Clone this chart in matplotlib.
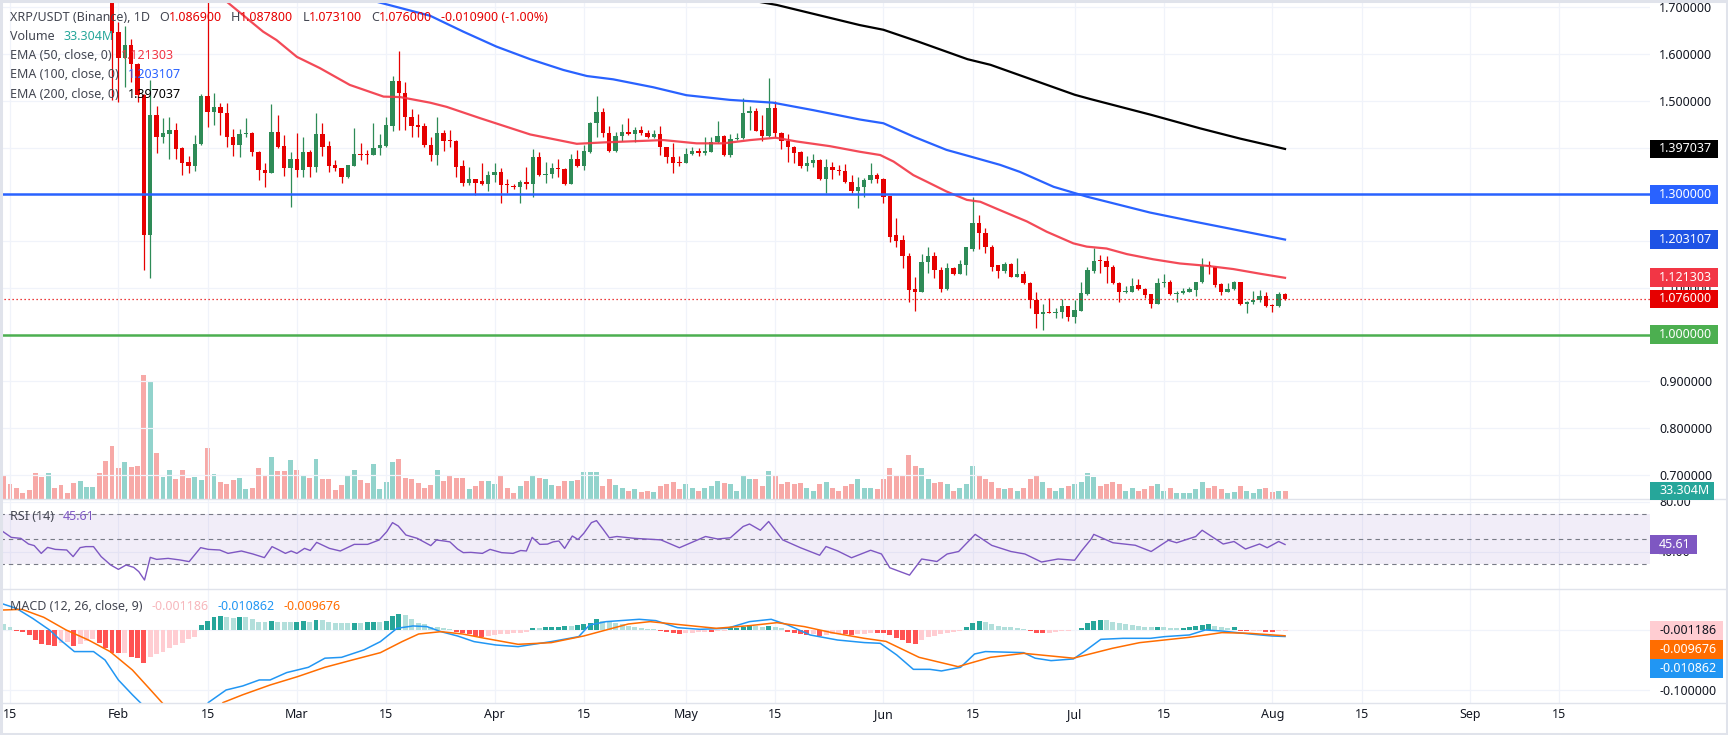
import numpy as np
import pandas as pd
import matplotlib
matplotlib.use("Agg")
import matplotlib.pyplot as plt
import matplotlib.dates as mdates
from matplotlib.patches import Rectangle
from matplotlib.lines import Line2D
from matplotlib.transforms import IdentityTransform

plt.rcParams['font.family'] = ['Noto Sans', 'DejaVu Sans']

# ---------------- data ----------------
candle_start = '2025-01-31'
opens = [1.745, 1.647, 1.591, 1.619, 1.579, 1.513, 1.213, 1.470, 1.422, 1.429,
         1.438, 1.400, 1.369, 1.361, 1.408, 1.510, 1.475, 1.486, 1.473, 1.422,
         1.406, 1.429, 1.431, 1.391, 1.352, 1.346, 1.433, 1.403, 1.356, 1.375,
         1.352, 1.390, 1.359, 1.430, 1.403, 1.363, 1.356, 1.338, 1.361, 1.387,
         1.386, 1.383, 1.398, 1.403, 1.446, 1.542, 1.517, 1.465, 1.448, 1.446,
         1.406, 1.384, 1.432, 1.415, 1.414, 1.361, 1.325, 1.332, 1.329, 1.322,
         1.341, 1.347, 1.320, 1.317, 1.315, 1.326, 1.321, 1.379, 1.341, 1.343,
         1.357, 1.355, 1.322, 1.375, 1.361, 1.391, 1.452, 1.475, 1.432, 1.393,
         1.425, 1.433, 1.429, 1.438, 1.432, 1.423, 1.430, 1.401, 1.379, 1.368,
         1.368, 1.386, 1.393, 1.388, 1.391, 1.411, 1.425, 1.384, 1.418, 1.420,
         1.473, 1.478, 1.438, 1.425, 1.484, 1.432, 1.415, 1.401, 1.391, 1.361,
         1.366, 1.373, 1.332, 1.358, 1.351, 1.349, 1.327, 1.306, 1.315, 1.331,
         1.341, 1.332, 1.296, 1.213, 1.202, 1.167, 1.097, 1.092, 1.155, 1.168,
         1.138, 1.097, 1.143, 1.130, 1.149, 1.182, 1.238, 1.217, 1.187, 1.149,
         1.135, 1.151, 1.124, 1.130, 1.110, 1.074, 1.043, 1.048, 1.047, 1.048,
         1.060, 1.038, 1.051, 1.087, 1.135, 1.158, 1.157, 1.145, 1.111, 1.091,
         1.092, 1.106, 1.097, 1.087, 1.065, 1.111, 1.112, 1.086, 1.088, 1.092,
         1.095, 1.112, 1.147, 1.145, 1.108, 1.092, 1.097, 1.112, 1.065, 1.070,
         1.073, 1.083, 1.063, 1.060, 1.0869]
highs = [1.760, 1.669, 1.659, 1.632, 1.580, 1.514, 1.545, 1.489, 1.463, 1.465,
         1.453, 1.402, 1.381, 1.427, 1.514, 1.712, 1.516, 1.495, 1.495, 1.439,
         1.439, 1.463, 1.434, 1.392, 1.366, 1.493, 1.470, 1.427, 1.391, 1.432,
         1.423, 1.395, 1.473, 1.452, 1.413, 1.373, 1.356, 1.363, 1.441, 1.410,
         1.395, 1.452, 1.430, 1.465, 1.553, 1.607, 1.541, 1.482, 1.472, 1.452,
         1.423, 1.465, 1.438, 1.438, 1.416, 1.373, 1.359, 1.333, 1.366, 1.349,
         1.368, 1.356, 1.332, 1.322, 1.331, 1.358, 1.396, 1.391, 1.370, 1.366,
         1.375, 1.356, 1.386, 1.395, 1.406, 1.455, 1.510, 1.484, 1.446, 1.434,
         1.450, 1.463, 1.443, 1.446, 1.438, 1.438, 1.446, 1.402, 1.409, 1.381,
         1.398, 1.402, 1.398, 1.422, 1.422, 1.457, 1.427, 1.430, 1.431, 1.507,
         1.489, 1.485, 1.470, 1.548, 1.500, 1.434, 1.429, 1.403, 1.393, 1.381,
         1.386, 1.375, 1.375, 1.370, 1.363, 1.365, 1.341, 1.338, 1.334, 1.366,
         1.345, 1.334, 1.296, 1.249, 1.213, 1.174, 1.124, 1.172, 1.187, 1.177,
         1.144, 1.152, 1.145, 1.160, 1.187, 1.294, 1.256, 1.227, 1.192, 1.149,
         1.156, 1.152, 1.163, 1.135, 1.113, 1.092, 1.065, 1.078, 1.056, 1.075,
         1.061, 1.074, 1.113, 1.145, 1.186, 1.170, 1.167, 1.149, 1.112, 1.104,
         1.120, 1.118, 1.099, 1.087, 1.120, 1.130, 1.117, 1.094, 1.099, 1.101,
         1.113, 1.163, 1.158, 1.146, 1.110, 1.110, 1.115, 1.113, 1.071, 1.094,
         1.095, 1.090, 1.065, 1.092, 1.0878]
lows = [1.502, 1.498, 1.530, 1.541, 1.498, 1.138, 1.120, 1.388, 1.410, 1.375,
        1.375, 1.341, 1.346, 1.349, 1.406, 1.445, 1.448, 1.427, 1.402, 1.382,
        1.379, 1.422, 1.381, 1.331, 1.315, 1.345, 1.398, 1.339, 1.272, 1.338,
        1.336, 1.338, 1.347, 1.381, 1.347, 1.349, 1.324, 1.334, 1.361, 1.374,
        1.365, 1.383, 1.384, 1.402, 1.435, 1.438, 1.438, 1.423, 1.423, 1.402,
        1.371, 1.363, 1.393, 1.402, 1.338, 1.318, 1.320, 1.299, 1.320, 1.306,
        1.327, 1.281, 1.302, 1.311, 1.281, 1.311, 1.295, 1.339, 1.324, 1.334,
        1.336, 1.320, 1.321, 1.359, 1.351, 1.388, 1.423, 1.423, 1.391, 1.391,
        1.413, 1.427, 1.411, 1.427, 1.420, 1.420, 1.384, 1.366, 1.346, 1.361,
        1.366, 1.383, 1.381, 1.384, 1.391, 1.409, 1.381, 1.379, 1.416, 1.418,
        1.438, 1.436, 1.413, 1.422, 1.422, 1.396, 1.370, 1.368, 1.356, 1.349,
        1.359, 1.331, 1.302, 1.332, 1.341, 1.325, 1.302, 1.270, 1.295, 1.324,
        1.324, 1.281, 1.197, 1.188, 1.142, 1.070, 1.051, 1.090, 1.132, 1.120,
        1.090, 1.095, 1.128, 1.130, 1.127, 1.179, 1.184, 1.174, 1.135, 1.120,
        1.132, 1.122, 1.124, 1.108, 1.056, 1.013, 1.010, 1.045, 1.035, 1.035,
        1.028, 1.024, 1.051, 1.085, 1.132, 1.131, 1.111, 1.108, 1.070, 1.088,
        1.090, 1.095, 1.078, 1.056, 1.065, 1.101, 1.085, 1.070, 1.087, 1.090,
        1.083, 1.111, 1.130, 1.102, 1.085, 1.090, 1.095, 1.063, 1.047, 1.066,
        1.070, 1.058, 1.049, 1.058, 1.0731]
closes = [1.646, 1.591, 1.619, 1.579, 1.513, 1.213, 1.470, 1.422, 1.432, 1.438,
          1.397, 1.368, 1.361, 1.408, 1.510, 1.475, 1.486, 1.473, 1.422, 1.406,
          1.429, 1.431, 1.391, 1.351, 1.346, 1.433, 1.402, 1.356, 1.375, 1.352,
          1.390, 1.359, 1.430, 1.402, 1.361, 1.356, 1.338, 1.363, 1.386, 1.385,
          1.384, 1.398, 1.406, 1.448, 1.542, 1.517, 1.465, 1.446, 1.445, 1.406,
          1.384, 1.432, 1.415, 1.414, 1.359, 1.325, 1.332, 1.325, 1.322, 1.341,
          1.347, 1.319, 1.319, 1.316, 1.326, 1.321, 1.379, 1.341, 1.343, 1.357,
          1.355, 1.322, 1.375, 1.361, 1.393, 1.452, 1.475, 1.432, 1.393, 1.425,
          1.433, 1.429, 1.438, 1.432, 1.423, 1.430, 1.401, 1.379, 1.366, 1.367,
          1.386, 1.393, 1.388, 1.393, 1.411, 1.425, 1.384, 1.418, 1.420, 1.473,
          1.478, 1.436, 1.425, 1.484, 1.432, 1.413, 1.401, 1.389, 1.361, 1.366,
          1.373, 1.332, 1.358, 1.351, 1.350, 1.327, 1.306, 1.315, 1.331, 1.341,
          1.332, 1.295, 1.209, 1.201, 1.167, 1.095, 1.092, 1.155, 1.168, 1.138,
          1.097, 1.142, 1.130, 1.151, 1.187, 1.238, 1.217, 1.187, 1.145, 1.135,
          1.151, 1.124, 1.130, 1.110, 1.073, 1.043, 1.049, 1.047, 1.048, 1.060,
          1.038, 1.053, 1.088, 1.137, 1.158, 1.157, 1.144, 1.111, 1.090, 1.093,
          1.104, 1.097, 1.085, 1.065, 1.111, 1.113, 1.086, 1.088, 1.094, 1.097,
          1.112, 1.147, 1.146, 1.106, 1.092, 1.097, 1.112, 1.065, 1.070, 1.074,
          1.083, 1.061, 1.062, 1.087, 1.076]

# volume (millions) and MACD histogram, one value per day from 2025-01-14
series_start = '2025-01-14'
volumes = [92, 63, 45, 25, 36, 105, 89, 105, 45, 56, 25, 65, 72, 49, 49, 105, 153,
           212, 125, 149, 129, 132, 497, 473, 186, 89, 116, 80, 119, 85, 89, 79,
           206, 100, 69, 60, 76, 87, 43, 45, 127, 92, 170, 114, 114, 156, 116,
           92, 85, 160, 83, 80, 36, 56, 92, 119, 76, 65, 140, 43, 69, 150,
           160, 85, 83, 65, 45, 56, 116, 72, 92, 85, 85, 43, 52, 72, 72,
           60, 92, 47, 25, 52, 72, 92, 87, 80, 56, 52, 72, 72, 76, 109, 109, 109,
           53, 80, 57, 44, 35, 40, 31, 35,
           31, 53, 62, 71, 40, 62, 44, 35, 44, 53,
           75, 66, 62, 35, 97, 80, 80, 53, 115, 97,
           62, 71, 62, 66, 44, 35, 62, 71, 44, 35,
           53, 62, 80, 44, 44, 40, 80, 124, 97, 97,
           177, 133, 124, 80, 66, 71, 62, 35, 44, 62,
           133, 97, 80, 71, 44, 40, 44, 35, 44, 80,
           97, 71, 44, 35, 44, 53, 62, 71, 106, 88,
           53, 62, 71, 62, 35, 44, 35, 40, 53, 62,
           35, 44, 27, 27, 27, 40, 71, 44, 53, 40,
           27, 31, 53, 35, 27, 40, 44, 31, 35, 33.304]
# candle direction for the first days whose candles sit above the visible range
early_up = [False, False, False, False, False, False, False, True, False, False,
            False, False, True, True, True, False, False]

macd_hist = [0.0094, 0.0056, -0.0011, -0.0028, -0.0083, -0.0167, -0.0233, -0.025, -0.0267,
             -0.0222, -0.0194, -0.0267, -0.0233, -0.0178, -0.0156, -0.0211, -0.0306,
             -0.0378, -0.0389, -0.0378, -0.0444, -0.0472, -0.0556, -0.0456, -0.04, -0.0361,
             -0.0306, -0.025, -0.0211, -0.0156, -0.0111,
             0.0083, 0.0156, 0.0222, 0.0239, 0.0211, 0.0206, 0.0211, 0.0211, 0.0178, 0.0139,
             0.0139, 0.0156, 0.0139, 0.0128, 0.0128, 0.0139,
             0.0156, 0.0139, 0.0167, 0.0167, 0.0139, 0.0122, 0.0111, 0.0111, 0.0122, 0.0122,
             0.0128, 0.0139, 0.0139, 0.0156, 0.0233, 0.0267, 0.025,
             0.0178, 0.0122, 0.0094, 0.0056, 0.0044, 0.0028, 0.0011, -0.0028, -0.0056, -0.0072,
             -0.01, -0.0111, -0.01, -0.0083, -0.0072, -0.0067, -0.0056, -0.0044, -0.0028,
             0.0039, 0.0039, 0.0044, 0.005, 0.0056, 0.0067, 0.0067, 0.0083, 0.0094, 0.0122,
             0.0178, 0.0156, 0.0139, 0.0122, 0.0094, 0.0067, 0.0044, 0.0028, 0.0011, 0.0011,
             -0.0011, -0.0028, -0.0056, -0.0067, -0.0056, -0.0044, -0.0039, -0.0028, -0.0028,
             -0.0017, -0.0011, 0.0028, 0.0039, 0.0056, 0.0083, 0.0067, 0.0056, 0.0072, 0.0056,
             0.0028,
             -0.0028, -0.0044, -0.0067, -0.0083, -0.0072, -0.0094, -0.0083, -0.0072, -0.0067,
             -0.0072, -0.0083, -0.0072, -0.0067, -0.0056, -0.0056, -0.0056, -0.0083, -0.0139,
             -0.0167, -0.0211,
             -0.0239, -0.0167, -0.0122, -0.01, -0.0067, -0.0044, -0.0028, -0.0011, 0.0056,
             0.0122, 0.015, 0.0128, 0.01, 0.0072, 0.0056, 0.0044, 0.0028, 0.0011, -0.0017,
             -0.0044,
             -0.0056, -0.0044, -0.0028, -0.0022, -0.0011, 0.0, 0.0039, 0.0111, 0.015, 0.0167,
             0.0167, 0.0139, 0.0111, 0.0094, 0.0083, 0.0067, 0.0056, 0.0044, 0.0056, 0.0056,
             0.0039, 0.0028, 0.0039, 0.0056, 0.0067, 0.0083, 0.0094, 0.0072, 0.0044, 0.0039,
             0.0044, -0.0017, -0.0017, -0.0016, -0.0011, -0.0028, -0.0028, -0.0013, -0.0012]

# line series read at sample points: days after 2025-01-15 and value
ema50_day = [34.0, 39.7, 41.8, 45.0, 48.6, 53.3, 58.6, 61.2, 65.9, 68.5, 73.7, 81.6, 88.9,
             93.1, 102.5, 107.7, 111.9, 116.1, 120.1, 123.4, 128.6, 133.3, 136.5, 138.6,
             141.7, 143.8, 146.9, 150.1, 152.2, 155.3, 159.5, 162.6, 166.8, 168.9, 172.0,
             175.2, 179.3, 183.5, 187.7, 191.9, 196.1, 200.0]
ema50_val = [1.712, 1.648, 1.630, 1.594, 1.570, 1.534, 1.509, 1.508, 1.496, 1.487, 1.463,
             1.428, 1.408, 1.411, 1.416, 1.409, 1.409, 1.416, 1.421, 1.413, 1.403, 1.391,
             1.384, 1.370, 1.341, 1.327, 1.306, 1.288, 1.284, 1.266, 1.242, 1.220, 1.195,
             1.188, 1.184, 1.172, 1.161, 1.152, 1.147, 1.140, 1.130, 1.121303]
ema100_day = [57.5, 65.9, 71.1, 76.3, 81.6, 86.8, 90.5, 94.6, 100.9, 106.1, 112.9, 119.7,
              126.0, 133.3, 137.0, 141.8, 146.9, 150.6, 155.3, 158.4, 163.7, 168.9, 178.8,
              185.6, 191.9, 200.0]
ema100_val = [1.712, 1.682, 1.648, 1.616, 1.589, 1.566, 1.553, 1.546, 1.529, 1.512, 1.502,
              1.496, 1.480, 1.460, 1.452, 1.423, 1.395, 1.381, 1.363, 1.348, 1.316, 1.295,
              1.261, 1.242, 1.225, 1.203107]
ema200_day = [116.6, 120.3, 133.3, 137.0, 142.4, 150.2, 153.8, 167.0, 169.4, 179.0, 186.7,
              193.0, 200.0]
ema200_val = [1.714, 1.705, 1.662, 1.652, 1.627, 1.589, 1.577, 1.513, 1.504, 1.470, 1.441,
              1.419, 1.397037]

rsi_day = [-1.3, 0.2, 1.7, 2.9, 3.8, 4.9, 5.9, 7.1, 8.9, 9.9,
           11.0, 11.9, 13.1, 14.3, 15.8, 17.0, 18.2, 19.4, 20.2, 21.1,
           22.0, 23.0, 24.8, 26.7, 28.1, 29.9, 31.1, 32.9, 34.2, 36.3,
           38.1, 39.9, 41.1, 42.0, 43.2, 44.1, 45.0, 46.2, 47.1, 48.1,
           50.1, 51.8, 54.0, 56.1, 57.9, 59.1, 60.0, 60.9, 62.1, 63.9,
           66.0, 66.9, 68.1, 69.0, 70.2, 71.1, 72.3, 74.1, 75.3, 77.1,
           78.9, 80.1, 81.0, 81.9, 83.1, 84.3, 85.2, 86.1, 87.0, 88.2,
           89.1, 90.0, 91.2, 92.0, 93.0, 94.0, 95.2, 98.0, 102.1, 105.0,
           109.1, 111.0, 113.0, 115.0, 116.0, 117.7, 119.0, 121.2, 124.0, 127.0,
           128.0, 129.8, 132.0, 133.0, 135.0, 136.7, 138.0, 141.1, 143.0, 145.4,
           147.0, 148.8, 151.4, 154.0, 157.0, 159.2, 161.8, 164.4, 167.0, 168.0,
           169.6, 170.0, 173.0, 176.5, 179.0, 181.7, 183.0, 186.0, 187.0, 190.3,
           192.0, 193.8, 196.0, 197.2, 199.0, 200.0]
rsi_val = [56.6, 51.3, 50.5, 46.0, 44.7, 38.5, 43.3, 41.7, 41.2, 35.9,
           43.1, 43.9, 43.9, 35.9, 29.2, 25.7, 29.2, 27.3, 23.9, 17.2,
           35.3, 33.7, 34.5, 33.2, 31.9, 43.1, 41.7, 41.2, 38.5, 40.4,
           38.0, 35.1, 43.9, 41.7, 38.5, 40.4, 38.5, 42.5, 40.8, 47.3,
           42.5, 40.4, 45.7, 45.7, 49.2, 55.9, 63.1, 60.4, 53.2, 50.5,
           44.7, 49.2, 48.4, 47.7, 42.0, 39.1, 39.3, 38.5, 41.7, 39.1,
           38.5, 40.8, 40.4, 51.3, 45.7, 45.9, 47.7, 48.4, 42.5, 52.4,
           49.6, 54.5, 63.1, 64.7, 58.0, 51.0, 52.0, 50.5, 49.3, 43.0,
           52.0, 50.0, 51.0, 60.0, 62.0, 57.0, 64.0, 49.3, 43.0, 37.0,
           44.0, 40.5, 35.0, 37.0, 41.0, 38.0, 27.0, 21.1, 34.0, 32.0,
           38.0, 40.0, 53.7, 44.9, 40.0, 38.0, 31.6, 34.0, 33.0, 40.0,
           50.0, 53.7, 47.0, 45.0, 40.0, 49.0, 47.0, 52.0, 57.0, 46.0,
           48.0, 42.0, 46.0, 43.0, 48.0, 45.61]

macd_day = [-1.1, 1.0, 3.6, 6.2, 7.9, 10.1, 13.1, 14.9, 17.0, 19.2, 20.5, 21.5, 30.5, 31.1,
            33.9, 36.5, 39.1, 40.8, 43.4, 46.8, 49.4, 52.0, 55.5, 58.1, 60.7, 63.2, 65.4,
            67.6, 70.2, 72.8, 76.2, 79.7, 81.4, 84.9, 89.2, 90.9, 93.5, 98.7, 101.3, 104.7,
            108.2, 112.5, 116.0, 119.4, 122.0, 125.5, 129.8, 134.0, 136.5, 139.1, 141.7,
            144.3, 146.1, 149.1, 151.3, 153.0, 156.4, 159.0, 160.8, 163.3, 166.8, 168.5,
            171.1, 174.6, 178.9, 181.1, 185.0, 187.5, 190.1, 194.5, 197.9, 200.0]
macd_val = [0.0433, 0.036, 0.019, 0.0, -0.0167, -0.036, -0.036, -0.05, -0.0833, -0.108,
            -0.1217, -0.135, -0.135, -0.121, -0.1, -0.0933, -0.0833, -0.0833, -0.071,
            -0.0622, -0.047, -0.0456, -0.0333, -0.0194, 0.0028, 0.0067, 0.0056, -0.0028,
            -0.01, -0.0194, -0.025, -0.0278, -0.025, -0.0194, -0.0111, 0.0083, 0.0139,
            0.0178, 0.0156, 0.0039, 0.0011, 0.0028, 0.0139, 0.0178, 0.0083, -0.0083,
            -0.0167, -0.021, -0.0222, -0.0417, -0.0656, -0.0656, -0.0683, -0.0622, -0.04,
            -0.036, -0.037, -0.0378, -0.047, -0.0511, -0.0483, -0.036, -0.0156, -0.0139,
            -0.0139, -0.0111, -0.0083, 0.0, -0.0017, -0.0067, -0.01, -0.010862]
signal_day = [-1.1, 1.9, 5.3, 8.8, 12.3, 15.7, 19.2, 21.8, 23.9, 25.0, 32.5, 33.4, 36.5,
              40.8, 45.1, 49.4, 53.7, 58.1, 61.5, 64.1, 67.6, 71.0, 74.5, 79.7, 84.9, 90.0,
              93.5, 97.0, 100.4, 105.6, 110.8, 116.0, 120.3, 124.6, 128.9, 134.0, 137.4,
              142.6, 148.7, 153.8, 159.0, 166.8, 172.9, 177.2, 185.0, 190.1, 194.5, 200.0]
signal_val = [0.0333, 0.0344, 0.0211, 0.0, -0.0167, -0.036, -0.0667, -0.097, -0.1217,
              -0.135, -0.135, -0.121, -0.108, -0.0917, -0.0778, -0.0622, -0.05, -0.0378,
              -0.0194, -0.0067, -0.0028, -0.0067, -0.0139, -0.0239, -0.0211, -0.01, 0.0,
              0.01, 0.0139, 0.0083, 0.0028, 0.0072, 0.0122, 0.0056, -0.0044, -0.0139,
              -0.019, -0.0456, -0.0611, -0.0456, -0.0389, -0.047, -0.0306, -0.0211, -0.0122,
              -0.0044, -0.0056, -0.009676]

tick_dates = ['2025-01-15', '2025-02-01', '2025-02-15', '2025-03-01', '2025-03-15',
              '2025-04-01', '2025-04-15', '2025-05-01', '2025-05-15', '2025-06-01',
              '2025-06-15', '2025-07-01', '2025-07-15', '2025-08-01', '2025-08-15',
              '2025-09-01', '2025-09-15']
tick_labels = ['15', 'Feb', '15', 'Mar', '15', 'Apr', '15', 'May', '15', 'Jun',
               '15', 'Jul', '15', 'Aug', '15', 'Sep', '15']

# ---------------- styling ----------------
W, H = 1728, 735
FS = 9
TXT = '#131722'
LEG = '#434651'
GRID = '#f0f3fa'
UP, DOWN = '#2e8b57', '#e60000'
VOL_UP, VOL_DOWN = '#92d3cc', '#f7a9a7'
C50, C100, C200 = '#f23645', '#2962ff', '#000000'

fig = plt.figure(figsize=(W / 100, H / 100), dpi=100)
fig.patch.set_facecolor('white')


def rect(x0, y0, x1, y1):
    return [x0 / W, 1 - y1 / H, (x1 - x0) / W, (y1 - y0) / H]


ax_vol = fig.add_axes(rect(0, 1.7, 1650, 499.3))
ax_vol.set_zorder(0)
ax = fig.add_axes(rect(0, 1.7, 1650, 499.3))
ax.set_zorder(1)
ax.patch.set_visible(False)
ax_rsi = fig.add_axes(rect(0, 499.3, 1650, 589.3))
ax_macd = fig.add_axes(rect(0, 589.3, 1650, 703))

base = mdates.date2num(pd.Timestamp('2025-01-15'))
x_c = mdates.date2num(pd.date_range(candle_start, periods=len(opens), freq='D'))
x_s = mdates.date2num(pd.date_range(series_start, periods=len(volumes), freq='D'))
ticks_x = mdates.date2num(pd.to_datetime(tick_dates))

for a in (ax_vol, ax, ax_rsi, ax_macd):
    a.set_xlim(base - 1.57, base + 257.25)
    for s in a.spines.values():
        s.set_visible(False)
    a.set_xticks(ticks_x)
    a.tick_params(axis='x', length=0, labelbottom=False)
    a.yaxis.tick_right()
    a.tick_params(axis='y', length=0, pad=6.5, labelsize=FS, labelcolor=TXT)

# vertical grid
for a in (ax, ax_rsi, ax_macd):
    for t in ticks_x:
        a.axvline(t, color=GRID, lw=0.9, zorder=0)

# ---- volume ----
o = np.array(opens)
c = np.array(closes)
up_c = c >= o
vol_up = np.concatenate([early_up, up_c])
ax_vol.bar(x_s, volumes, width=0.78, color=np.where(vol_up, VOL_UP, VOL_DOWN), linewidth=0)
ax_vol.set_ylim(0, 1994)
ax_vol.set_yticks([])

# ---- price pane ----
ax.set_ylim(0.64743, 1.71205)
ax.set_yticks(np.round(np.arange(0.7, 1.71, 0.1), 1))
ax.yaxis.set_major_formatter(matplotlib.ticker.FormatStrFormatter('%.6f'))
for v in np.arange(0.7, 1.71, 0.1):
    ax.axhline(v, color=GRID, lw=0.9, zorder=0)

col = np.where(up_c, UP, DOWN)
ax.vlines(x_c, lows, highs, colors=col, linewidth=0.9, zorder=3)
ax.bar(x_c, np.maximum(np.abs(c - o), 0.0022), bottom=np.minimum(o, c), width=0.68,
       color=col, linewidth=0, zorder=3.1)

ax.plot(base + np.array(ema50_day), ema50_val, color=C50, lw=1.6, alpha=0.9, zorder=4)
ax.plot(base + np.array(ema100_day), ema100_val, color=C100, lw=1.6, zorder=4)
ax.plot(base + np.array(ema200_day), ema200_val, color=C200, lw=1.6, zorder=4)
ax.axhline(1.3, color='#2962ff', lw=1.8, zorder=4)
ax.axhline(1.0, color='#4caf50', lw=1.8, zorder=4)
ax.axhline(closes[-1], color=DOWN, lw=0.9, ls=(0, (1, 2.2)), zorder=4)

# ---- RSI pane ----
ax_rsi.set_ylim(9.76, 81.76)
ax_rsi.set_yticks([40, 80])
ax_rsi.yaxis.set_major_formatter(matplotlib.ticker.FormatStrFormatter('%.2f'))
for v in (40, 80):
    ax_rsi.axhline(v, color=GRID, lw=0.9, zorder=0)
ax_rsi.axhspan(30, 70, color='#7e57c2', alpha=0.1, lw=0, zorder=1)
for v in (70, 50, 30):
    ax_rsi.axhline(v, color='#787b86', lw=0.8, ls=(0, (4, 3.5)), zorder=2)
ax_rsi.plot(base + np.array(rsi_day), rsi_val, color='#7e57c2', lw=1.0, zorder=3)

# ---- MACD pane ----
ax_macd.set_ylim(-0.1217, 0.0678)
ax_macd.set_yticks([-0.1])
ax_macd.yaxis.set_major_formatter(matplotlib.ticker.FormatStrFormatter('%.6f'))
for v in (-0.1, 0.0):
    ax_macd.axhline(v, color=GRID, lw=0.9, zorder=0)
hist = np.array(macd_hist)
prev = np.concatenate([[hist[0]], hist[:-1]])
hcol = np.where(hist >= 0,
                np.where(hist > prev, '#26a69a', '#b2dfdb'),
                np.where(hist > prev, '#ffcdd2', '#ff5252'))
ax_macd.bar(x_s, hist, width=0.78, color=hcol, linewidth=0, zorder=2)
ax_macd.plot(base + np.array(macd_day), macd_val, color='#2196f3', lw=1.1, zorder=3)
ax_macd.plot(base + np.array(signal_day), signal_val, color='#ff6d00', lw=1.1, zorder=3)
ax_macd.set_xticklabels(tick_labels)
ax_macd.tick_params(axis='x', labelbottom=True, labelsize=FS, labelcolor=TXT, pad=3.3)


# ---- legends (multi-coloured rows) ----
def legend_row(a, y_px, parts):
    prev_t = None
    for s, colr, gap in parts:
        if prev_t is None:
            prev_t = a.annotate(s, xy=(10, H - y_px), xycoords='figure pixels', color=colr,
                                fontsize=FS, va='center', ha='left', zorder=6)
        else:
            prev_t = a.annotate(s, xy=(1, 0), xycoords=prev_t, xytext=(gap, 0),
                                textcoords='offset pixels', color=colr, fontsize=FS,
                                va='bottom', ha='left', zorder=6)


legend_row(ax, 17.3, [('XRP/USDT (Binance), 1D', LEG, 0), ('O', LEG, 9), ('1.086900', DOWN, 0),
                      ('H', LEG, 9), ('1.087800', DOWN, 0), ('L', LEG, 9), ('1.073100', DOWN, 0),
                      ('C', LEG, 9), ('1.076000', DOWN, 0), ('-0.010900 (-1.00%)', DOWN, 9)])
legend_row(ax, 36.7, [('Volume', LEG, 0), ('33.304M', '#26a69a', 9)])
legend_row(ax, 55.7, [('EMA (50, close, 0)', LEG, 0), ('1.121303', C50, 9)])
legend_row(ax, 74.7, [('EMA (100, close, 0)', LEG, 0), ('1.203107', C100, 9)])
legend_row(ax, 94.0, [('EMA (200, close, 0)', LEG, 0), ('1.397037', C200, 9)])
legend_row(ax_rsi, 516.7, [('RSI (14)', LEG, 0), ('45.61', '#7e57c2', 9)])
legend_row(ax_macd, 606.7, [('MACD (12, 26, close, 9)', LEG, 0), ('-0.001186', '#f7b7bc', 9),
                            ('-0.010862', '#2196f3', 9), ('-0.009676', '#ff6d00', 9)])


# ---- right-scale value boxes ----
def value_box(yc, s, fc, tc='white', x1=1718, h=18.5):
    fig.add_artist(Rectangle((1650, H - yc - h / 2), x1 - 1650, h, transform=IdentityTransform(),
                             facecolor=fc, edgecolor='none', zorder=5))
    fig.text(1659 / W, 1 - yc / H, s, color=tc, fontsize=FS, va='center', ha='left', zorder=6)


def py(a, v):
    return H - a.transData.transform((base, v))[1]


value_box(py(ax, ema200_val[-1]), '1.397037', C200)
value_box(py(ax, 1.3), '1.300000', '#2962ff')
value_box(py(ax, ema100_val[-1]), '1.203107', '#1e53e5')
value_box(py(ax, ema50_val[-1]) - 0.5, '1.121303', C50)
value_box(py(ax, closes[-1]), '1.076000', DOWN)
value_box(py(ax, 1.0), '1.000000', '#4caf50')
value_box(py(ax_vol, volumes[-1]), '33.304M', '#26a69a', x1=1714)
value_box(py(ax_rsi, rsi_val[-1]), '45.61', '#7e57c2', x1=1697)
value_box(630.5, '-0.001186', '#ffcdd2', tc=TXT, x1=1723, h=19)
value_box(649.5, '-0.009676', '#ff6d00', x1=1723, h=19)
value_box(668.5, '-0.010862', '#2196f3', x1=1723, h=19)

# pane separators and outer frame
for yy in (499.3, 589.3, 703):
    fig.add_artist(Line2D([0, 1725], [H - yy, H - yy], transform=IdentityTransform(),
                          color='#e0e3eb', lw=1.0, zorder=4))
fig.add_artist(Rectangle((1, 1.5), W - 2.5, H - 2.5, transform=IdentityTransform(),
                         fill=False, edgecolor='#e0e3eb', lw=2.2, zorder=7))

fig.savefig('out.png', dpi=100, facecolor='white')
